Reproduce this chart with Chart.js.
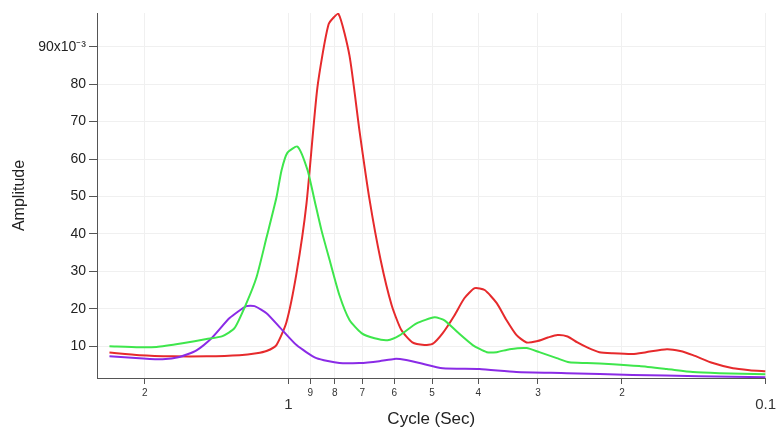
<!DOCTYPE html>
<html>
<head>
<meta charset="utf-8">
<script src="https://cdn.jsdelivr.net/npm/chart.js@4"></script>
<style>
  html, body { margin: 0; padding: 0; background: #fff; }
  #wrap { width: 779px; height: 430px; }
</style>
</head>
<body>
<div id="wrap"><canvas id="spec" width="779" height="430"></canvas></div>
<script>
// period (sec) and amplitude (x10^-3)
const redPeriod = [2.373, 2.053, 1.751, 1.485, 1.267, 1.167, 1.112, 1.060, 1.010, 0.962, 0.917, 0.870, 0.824, 0.786, 0.745, 0.710, 0.676, 0.641, 0.608, 0.580, 0.550, 0.519, 0.499, 0.475, 0.449, 0.428, 0.407, 0.388, 0.366, 0.349, 0.333, 0.317, 0.302, 0.286, 0.273, 0.260, 0.248, 0.236, 0.223, 0.209, 0.190, 0.178, 0.161, 0.151, 0.142, 0.129, 0.117, 0.108, 0.100];
const redAmp    = [8.3, 7.6, 7.3, 7.3, 7.6, 8.1, 8.7, 10.3, 16.4, 29.5, 48, 79, 96, 98.8, 87.6, 67.6, 49, 33, 21, 14.3, 11, 10.3, 10.6, 13.5, 18.2, 22.8, 25.5, 25, 21.5, 16.9, 13, 11, 11.3, 12.3, 13, 12.6, 11, 9.6, 8.4, 8.1, 7.9, 8.4, 9.2, 8.7, 7.6, 5.5, 4.1, 3.6, 3.3];

const greenPeriod = [2.373, 2.053, 1.891, 1.668, 1.485, 1.375, 1.298, 1.225, 1.167, 1.112, 1.060, 1.034, 1.005, 0.957, 0.912, 0.882, 0.853, 0.820, 0.782, 0.745, 0.703, 0.660, 0.620, 0.585, 0.539, 0.494, 0.471, 0.442, 0.411, 0.384, 0.366, 0.344, 0.317, 0.298, 0.274, 0.258, 0.237, 0.209, 0.184, 0.161, 0.142, 0.125, 0.100];
const greenAmp    = [10, 9.7, 9.8, 10.8, 11.9, 12.7, 14.8, 21.5, 28.4, 39, 49.7, 57, 61.7, 63.3, 57, 49, 41, 33, 23.6, 17, 13.5, 12.1, 11.6, 12.9, 16.1, 17.7, 16.9, 13.7, 10.3, 8.4, 8.4, 9.2, 9.5, 8.4, 6.8, 5.7, 5.5, 5.2, 4.7, 3.9, 3.1, 2.8, 2.5];

const purplePeriod = [2.373, 2.053, 1.837, 1.692, 1.559, 1.443, 1.329, 1.225, 1.178, 1.112, 1.044, 0.962, 0.874, 0.782, 0.710, 0.645, 0.600, 0.571, 0.531, 0.475, 0.398, 0.333, 0.261, 0.190, 0.138, 0.100];
const purpleAmp    = [7.3, 6.8, 6.5, 7.1, 8.9, 12.4, 17.5, 20.7, 20.7, 18.8, 15.1, 10.3, 6.8, 5.5, 5.5, 6.0, 6.6, 6.4, 5.5, 4.1, 3.9, 3.1, 2.8, 2.3, 2.0, 1.7];

const xTicks = [2, 1, 0.9, 0.8, 0.7, 0.6, 0.5, 0.4, 0.3, 0.2, 0.1];
const xMajor = [1, 0.1];
const yTicks = [10, 20, 30, 40, 50, 60, 70, 80, 90];

const toPoints = (xs, ys) => xs.map((x, i) => ({ x: x, y: ys[i] }));
const isMajor = v => xMajor.some(m => Math.abs(m - v) < 1e-9);

const ctx = document.getElementById("spec").getContext("2d");

const series = (data, color) => ({
  data: data,
  borderColor: color,
  borderWidth: 2,
  pointRadius: 0,
  fill: false,
  tension: 0.2,
});

new Chart(ctx, {
  type: "line",
  data: {
    datasets: [
      series(toPoints(greenPeriod, greenAmp), "#3ee64c"),
      series(toPoints(purplePeriod, purpleAmp), "#8a2be6"),
      series(toPoints(redPeriod, redAmp), "#e62a2c"),
    ],
  },
  options: {
    responsive: false,
    animation: false,
    devicePixelRatio: 1,
    layout: { padding: { top: 13, right: 13, left: 0, bottom: 0 } },
    plugins: { legend: { display: false }, tooltip: { enabled: false } },
    scales: {
      x: {
        type: "logarithmic",
        reverse: true,
        min: 0.1,
        max: 2.52,
        afterBuildTicks: (scale) => { scale.ticks = xTicks.map(v => ({ value: v, major: isMajor(v) })); },
        afterFit: (scale) => { scale.height = 52; },
        border: { display: true, color: "#555", width: 1 },
        grid: { color: "#f0f0f0", tickColor: "#555", tickLength: 6, drawTicks: true },
        ticks: {
          autoSkip: false,
          maxRotation: 0,
          padding: 3,
          color: "#333",
          font: (c) => isMajor(c.tick ? c.tick.value : 0)
            ? { family: "Liberation Sans, Arial, sans-serif", size: 15, lineHeight: 0.8 }
            : { family: "Liberation Sans, Arial, sans-serif", size: 10 },
          callback: (v) => {
            if (isMajor(v)) return ["", String(v)];
            if (v < 1) return String(Math.round(v * 10));
            return String(v);
          },
        },
        title: {
          display: true,
          text: "Cycle (Sec)",
          color: "#222",
          font: { family: "Liberation Sans, Arial, sans-serif", size: 17 },
          padding: { top: 0, bottom: 0 },
        },
      },
      y: {
        min: 1.5,
        max: 99,
        afterBuildTicks: (scale) => { scale.ticks = yTicks.map(v => ({ value: v })); },
        afterFit: (scale) => { scale.width = 97; },
        border: { display: true, color: "#555", width: 1 },
        grid: { color: "#f0f0f0", tickColor: "#555", tickLength: 8 },
        ticks: {
          padding: 3,
          color: "#222",
          font: { family: "Liberation Sans, Arial, sans-serif", size: 14 },
          callback: (v) => (v === 90 ? "90x10\u207B\u00B3" : String(v)),
        },
        title: {
          display: true,
          text: "Amplitude",
          color: "#222",
          font: { family: "Liberation Sans, Arial, sans-serif", size: 16 },
          padding: { top: 10, bottom: 0 },
        },
      },
    },
  },
});
</script>
</body>
</html>
